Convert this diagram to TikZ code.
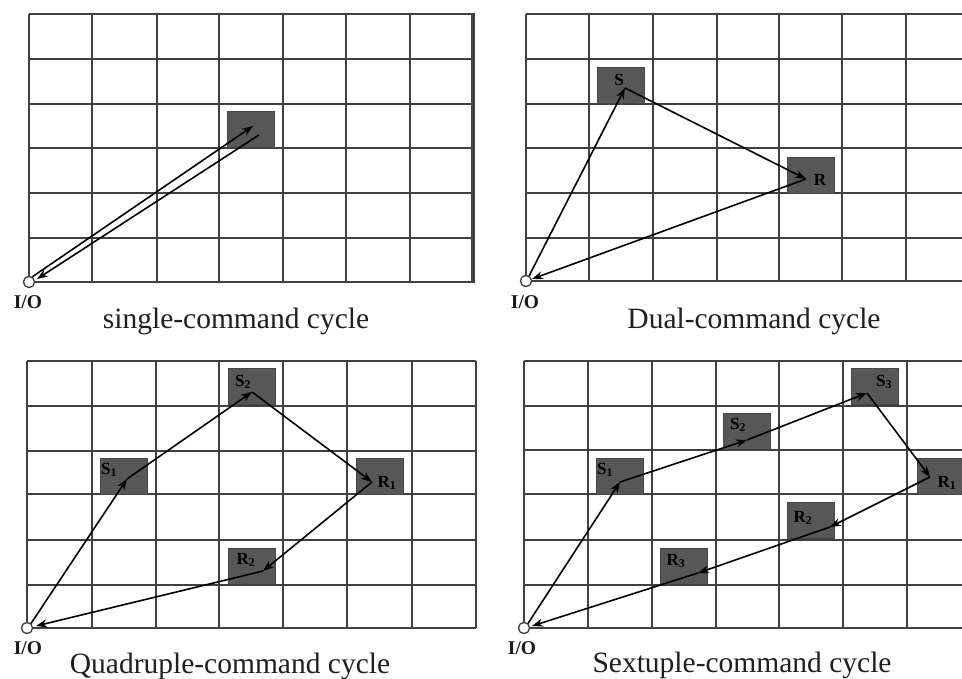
\documentclass[tikz,border=0pt]{standalone}
\usepackage{fontspec}
\setmainfont{Liberation Serif}
\usetikzlibrary{arrows.meta}
\tikzset{
  gridline/.style={line width=2pt, draw=black!75},
  edgeline/.style={line width=3.5pt, draw=black!75},
  cellbox/.style={rectangle, fill=black!66, draw=black!72, line width=0.8pt, minimum width=47pt, minimum height=36pt, inner sep=0pt},
  iocirc/.style={circle, draw=black!75, fill=white, line width=1.2pt, minimum size=11pt, inner sep=0pt},
  iolbl/.style={font=\fontsize{19.5}{21}\selectfont\bfseries, inner sep=0pt, text=black!90},
  boxlbl/.style={font=\fontsize{17}{19}\selectfont\bfseries, inner sep=0pt, text=black},
  caption/.style={font=\fontsize{29.5}{32}\selectfont, inner sep=0pt, anchor=base, text=black!88},
  move/.style={line width=1.6pt, draw=black, -{Stealth[length=11pt,width=8pt]}}
}
\begin{document}
\begin{tikzpicture}[x=1pt,y=-1pt]
\useasboundingbox (0,0) rectangle (962,679);
\fill[white] (0,0) rectangle (962,679);
% ---------- top-left grid ----------
\foreach \x in {29,92,157,219,283,346,410} \draw[gridline] (\x,14) -- (\x,282);
\foreach \y in {14,59,104,148,193,238,282} \draw[gridline] (29,\y) -- (473,\y);
\draw[edgeline] (473,13) -- (473,283);
% ---------- top-right grid ----------
\foreach \x in {526,589,653,717,779,842,906} \draw[gridline] (\x,14) -- (\x,281);
\foreach \y in {14,59,104,148,193,238,281} \draw[gridline] (526,\y) -- (962,\y);
% ---------- bottom-left grid ----------
\foreach \x in {27,92,156,219,283,347,412,476} \draw[gridline] (\x,361) -- (\x,628);
\foreach \y in {361,406,451,494,540,585,628} \draw[gridline] (27,\y) -- (476,\y);
% ---------- bottom-right grid ----------
\foreach \x in {524,588,652,716,779,843,907} \draw[gridline] (\x,361) -- (\x,628);
\foreach \y in {361,406,450,494,540,585,628} \draw[gridline] (524,\y) -- (962,\y);

% ---------- boxes ----------
\node[cellbox] (tlB) at (251,129) {};
\node[cellbox] (trS) at (620.5,85) {};
\node[cellbox] (trR) at (810.5,175) {};
\node[cellbox] (blS1) at (123.5,476) {};
\node[cellbox] (blS2) at (252,386.5) {};
\node[cellbox] (blR1) at (379.5,476) {};
\node[cellbox] (blR2) at (251.5,566) {};
\node[cellbox] (brS1) at (620,476) {};
\node[cellbox] (brS2) at (747,431) {};
\node[cellbox] (brS3) at (874.5,386) {};
\node[cellbox] (brR1) at (940.5,476) {};
\node[cellbox] (brR2) at (811,520.5) {};
\node[cellbox] (brR3) at (684,566) {};

% ---------- I/O points ----------
\node[iocirc] (tlIO) at (29,282) {};
\node[iocirc] (trIO) at (526,281) {};
\node[iocirc] (blIO) at (27,628) {};
\node[iocirc] (brIO) at (524,628) {};

% ---------- route points ----------
\coordinate (tlUa) at (32,277);   \coordinate (tlUb) at (253,126);
\coordinate (tlDa) at (259,135);  \coordinate (tlDb) at (37,279);
\coordinate (trIOp) at (528,278); \coordinate (trIOq) at (532,279);
\coordinate (trSp) at (625,88);   \coordinate (trRp) at (806,179);
\coordinate (blIOp) at (30,625);  \coordinate (blIOq) at (36,626);
\coordinate (blS1p) at (127,479); \coordinate (blS2p) at (252,392);
\coordinate (blR1p) at (372,482); \coordinate (blR2p) at (263,571);
\coordinate (brIOp) at (527,625); \coordinate (brIOq) at (532,626);
\coordinate (brS1p) at (620,482); \coordinate (brS2p) at (747,440);
\coordinate (brS3p) at (867,393); \coordinate (brR1p) at (930,477);
\coordinate (brR2p) at (830,527); \coordinate (brR3p) at (698,573);

% ---------- moves ----------
\draw[move] (tlUa) -- (tlUb);
\draw[move] (tlDa) -- (tlDb);

\draw[move] (trIOp) -- (trSp);
\draw[move] (trSp) -- (trRp);
\draw[move] (trRp) -- (trIOq);

\draw[move] (blIOp) -- (blS1p);
\draw[move] (blS1p) -- (blS2p);
\draw[move] (blS2p) -- (blR1p);
\draw[move] (blR1p) -- (blR2p);
\draw[move] (blR2p) -- (blIOq);

\draw[move] (brIOp) -- (brS1p);
\draw[move] (brS1p) -- (brS2p);
\draw[move] (brS2p) -- (brS3p);
\draw[move] (brS3p) -- (brR1p);
\draw[move] (brR1p) -- (brR2p);
\draw[move] (brR2p) -- (brR3p);
\draw[move] (brR3p) -- (brIOq);

% redraw I/O circles on top
\node[iocirc] at (tlIO) {};
\node[iocirc] at (trIO) {};
\node[iocirc] at (blIO) {};
\node[iocirc] at (brIO) {};

% ---------- box labels ----------
\node[boxlbl] (trSl) at (619,80) {S};
\node[boxlbl] (trRl) at (820,180) {R};
\node[boxlbl] (blS1l) at (109,470) {S\textsubscript{1}};
\node[boxlbl] (blS2l) at (243,382) {S\textsubscript{2}};
\node[boxlbl] (blR1l) at (387,483) {R\textsubscript{1}};
\node[boxlbl] (blR2l) at (246,560) {R\textsubscript{2}};
\node[boxlbl] (brS1l) at (605,470) {S\textsubscript{1}};
\node[boxlbl] (brS2l) at (738,425) {S\textsubscript{2}};
\node[boxlbl] (brS3l) at (884,382) {S\textsubscript{3}};
\node[boxlbl] (brR1l) at (947,483) {R\textsubscript{1}};
\node[boxlbl] (brR2l) at (803,518) {R\textsubscript{2}};
\node[boxlbl] (brR3l) at (676,561) {R\textsubscript{3}};

% ---------- I/O labels ----------
\node[iolbl] (tlIOl) at (28,302) {I/O};
\node[iolbl] (trIOl) at (525,302) {I/O};
\node[iolbl] (blIOl) at (28,648) {I/O};
\node[iolbl] (brIOl) at (522,648) {I/O};

% ---------- captions ----------
\node[caption] (capA) at (236,328) {single-command cycle};
\node[caption] (capB) at (754,328) {Dual-command cycle};
\node[caption] (capC) at (230,673) {Quadruple-command cycle};
\node[caption] (capD) at (742,672) {Sextuple-command cycle};
\end{tikzpicture}
\end{document}
